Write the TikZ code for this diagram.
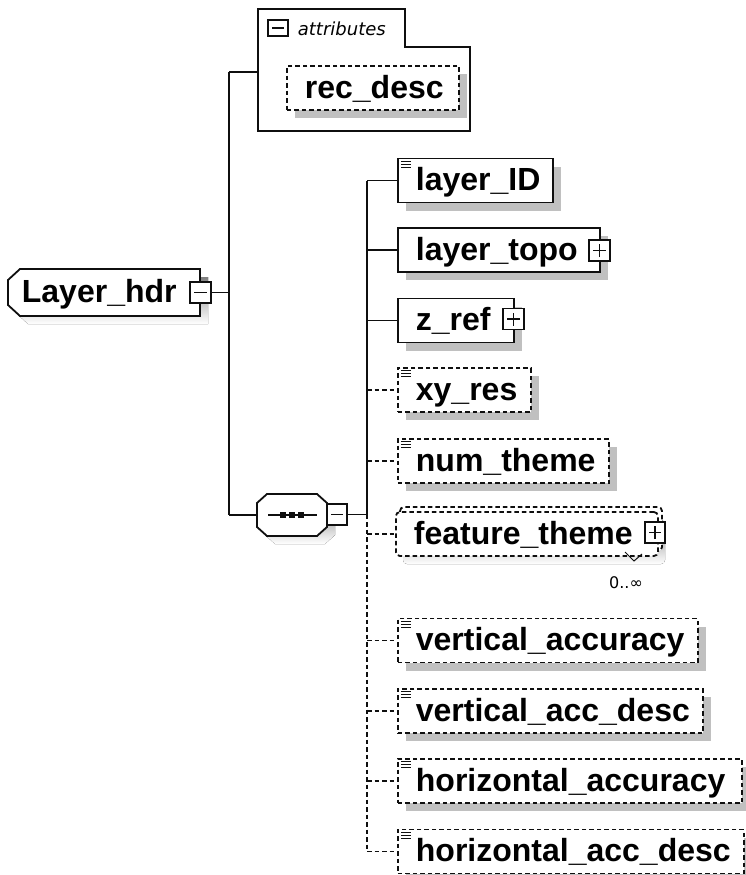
\documentclass[tikz,border=0pt]{standalone}
\usepackage{fontspec}
\setmainfont{Liberation Sans}
\newfontfamily\dejavu{DejaVu Sans}
\usetikzlibrary{shadows}
\definecolor{shade}{RGB}{192,192,192}
\definecolor{ink}{RGB}{15,15,15}
\newcommand\elbox[2]{\makebox[#1pt][l]{\hspace{18pt}#2}}
\newcommand\simpicon[1]{\foreach \dy in {3.5,6.5,9.5}{\draw[line width=1.2pt] ([shift={(4pt,-\dy pt)}]#1.north west) -- ++(10,0);}}
\begin{document}
\begin{tikzpicture}[x=1pt,y=-1pt, line width=1.8pt, draw=ink,
  elem/.style={draw=ink, fill=white, anchor=west, minimum height=44pt, inner xsep=0pt, inner ysep=0pt,
    text height=23pt, text depth=3pt, font=\fontsize{32}{36}\selectfont\bfseries},
  shad/.style={drop shadow={shadow xshift=8pt, shadow yshift=-8pt, fill=shade, opacity=1}},
  opt/.style={dash pattern=on 4.5pt off 3pt},
  minusbox/.style={draw=ink, fill=white, minimum width=21pt, minimum height=21pt, inner sep=0pt,
    path picture={\draw[line width=1.3pt] ([xshift=4pt]path picture bounding box.west) -- ([xshift=-4pt]path picture bounding box.east);}},
  plusbox/.style={minusbox,
    path picture={\draw[line width=1.3pt] ([xshift=4pt]path picture bounding box.west) -- ([xshift=-4pt]path picture bounding box.east);
      \draw[line width=1.3pt] ([yshift=4pt]path picture bounding box.south) -- ([yshift=-4pt]path picture bounding box.north);}}
]
\useasboundingbox (0,0) rectangle (745,875);

% ---- Layer_hdr root
\fill[shade] (28,277) -- (208,277) -- (208,324) -- (28,324) -- (16,313) -- (16,288) -- cycle;
\draw[fill=white] (20,269) -- (200,269) -- (200,316) -- (20,316) -- (8,305) -- (8,280) -- cycle;
\node[anchor=west, inner sep=0pt, text height=23pt, text depth=3pt, font=\fontsize{32}{36}\selectfont\bfseries] (hdr) at (21,292.5) {Layer\_hdr};
\node[minusbox] (hdrx) at (200.5,292.5) {};

% ---- trunk
\coordinate (tj) at (229,292.5);
\coordinate (attrJ) at (229,72);
\coordinate (seqJ) at (229,515);
\draw (hdrx.east) -- (tj);
\draw (attrJ) -- (seqJ);

% ---- attributes group
\draw[fill=white] (258,9) -- (405,9) -- (405,47) -- (470,47) -- (470,131) -- (258,131) -- cycle;
\coordinate (attrL) at (258,72);
\draw (attrJ) -- (attrL);
\node[minusbox, minimum width=20pt, minimum height=16pt] (attrx) at (278,28) {};
\node[anchor=west, inner sep=0pt, font=\dejavu\itshape\fontsize{18}{18}\selectfont] (attrlbl) at (297,29) {attributes};
\node[elem, opt, shad] (rec) at (286,88) {\elbox{172}{rec\_desc}};

% ---- sequence compositor
\fill[shade] (275,502) -- (325,502) -- (335,511) -- (335,535) -- (325,544) -- (275,544) -- (265,535) -- (265,511) -- cycle;
\draw[fill=white] (267,494) -- (317,494) -- (327,503) -- (327,527) -- (317,536) -- (267,536) -- (257,527) -- (257,503) -- cycle;
\coordinate (seqL) at (257,515);
\draw (seqJ) -- (seqL);
\draw (268,515) -- (317,515);
\foreach \cx in {282.5,291.5,300.5}{\fill[ink] (\cx-3,512) rectangle (\cx+3,518);}
\node[minusbox, minimum width=20pt] (seqx) at (337,514.5) {};
\coordinate (cj) at (367,514.5);
\draw (seqx.east) -- (cj);

% ---- children
\node[elem, shad] (lid) at (397,180.5) {\elbox{155}{layer\_ID}};
\simpicon{lid}
\node[elem, shad] (ltopo) at (397,250) {\elbox{202}{layer\_topo}};
\node[plusbox] (ltopox) at (599.5,250.5) {};
\node[elem, shad] (zref) at (397,320.5) {\elbox{116}{z\_ref}};
\node[plusbox] (zrefx) at (513.5,319) {};
\node[elem, opt, shad] (xyres) at (397,390) {\elbox{133}{xy\_res}};
\simpicon{xyres}
\node[elem, opt, shad] (numth) at (397,461) {\elbox{211}{num\_theme}};
\simpicon{numth}

% feature_theme (multiple occurrence)
\fill[shade, rounded corners=4pt] (403,520) rectangle (665,564);
\draw[opt, fill=white, rounded corners=4pt] (400,507) rectangle (662,551);
\node[elem, opt, rounded corners=4pt] (featth) at (395,534) {\elbox{262}{feature\_theme}};
\node[plusbox, minimum width=20pt] (featthx) at (655,532.5) {};
\draw[line width=1pt] (625,552) -- (634,561) -- (642,554);
\node[inner sep=0pt, font=\dejavu\fontsize{16}{16}\selectfont] (mult) at (626,583) {0..∞};

\node[elem, opt, shad] (vacc) at (397,640.5) {\elbox{300}{vertical\_accuracy}};
\simpicon{vacc}
\node[elem, opt, shad] (vaccd) at (397,711) {\elbox{305}{vertical\_acc\_desc}};
\simpicon{vaccd}
\node[elem, opt, shad] (hacc) at (397,781) {\elbox{344}{horizontal\_accuracy}};
\simpicon{hacc}
\node[elem, opt, shad] (haccd) at (397,851.5) {\elbox{346}{horizontal\_acc\_desc}};
\simpicon{haccd}

% ---- child connectors
\draw (cj |- lid.west) -- (cj);
\draw[opt] (cj) -- (cj |- haccd.west);
\foreach \n in {lid,ltopo,zref}{\draw (cj |- \n.west) -- (\n.west);}
\foreach \n in {xyres,numth,featth,vacc,vaccd,hacc,haccd}{\draw[opt] (cj |- \n.west) -- (\n.west);}
\end{tikzpicture}
\end{document}
